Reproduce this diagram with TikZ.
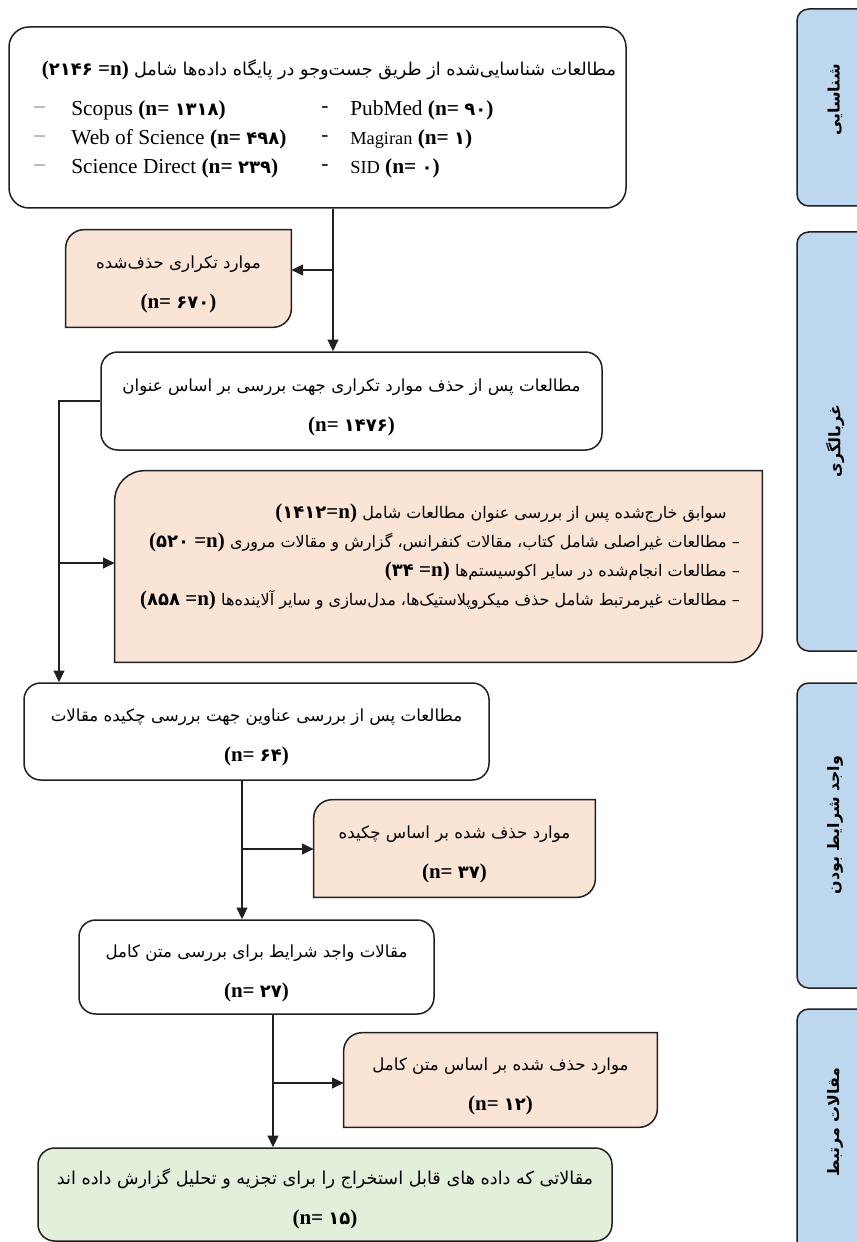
\documentclass[tikz,border=0pt]{standalone}
\usepackage{fontspec}
\setmainfont{Liberation Serif}
\newfontfamily\fa[Script=Arabic]{DejaVu Sans}
\TeXXeTstate=1
\usetikzlibrary{arrows.meta,positioning,backgrounds}

\definecolor{ink}{RGB}{35,31,32}
\definecolor{peach}{RGB}{250,228,214}
\definecolor{mint}{RGB}{226,239,218}
\definecolor{sky}{RGB}{189,215,238}

\def\px{0.6pt}
% persian line, right to left
\newcommand{\fl}[2][10]{{\fa\fontsize{#1}{12}\selectfont\beginR #2\endR}}
% pushes a two line text a little down
\newcommand{\topstrut}{\rule{0pt}{15pt}}
% count on its own line
\newcommand{\nn}[1]{{\bfseries (n= {\fa\fontsize{10.8}{12}\selectfont #1})}}
% count at the end of a persian line
\newcommand{\rn}[2]{{\bfseries ({\fa\fontsize{10.8}{12}\selectfont #1}#2=n)}}
% peach box with two round corners
\newcommand{\cutbox}[2]{%
  \begin{scope}[on background layer]
    \filldraw[draw=ink,fill=peach,line width=0.9pt] (#1.south west) -- ([yshift=-#2]#1.north west)
      arc[start angle=180,end angle=90,radius=#2] -- (#1.north east) -- ([yshift=#2]#1.south east)
      arc[start angle=0,end angle=-90,radius=#2] -- cycle;
  \end{scope}}

\begin{document}
\begin{tikzpicture}[x=0.6pt,y=-0.6pt,
  box/.style={draw=ink,line width=0.9pt,inner sep=0pt,align=center,font=\fontsize{12.6}{24}\selectfont},
  whitebox/.style={box,fill=white,rounded corners=10pt},
  mintbox/.style={box,fill=mint,rounded corners=10pt},
  textonly/.style={inner sep=0pt,align=center,font=\fontsize{12.6}{24}\selectfont},
  sidebox/.style={draw=ink,line width=0.9pt,fill=sky,rounded corners=7pt,inner sep=0pt},
  arr/.style={draw=ink,line width=0.9pt,-{Triangle[length=7pt,width=6.5pt]}}]

  \path[use as bounding box,clip] (0,0) rectangle (857,1242);

  %identification
  \node[whitebox,rounded corners=12pt,minimum width=617*\px,minimum height=181*\px] (ident) at (317.5,117.5) {};
  \node[textonly] (identhead) at (329,70) {\rn{۲۱۴۶}{\ }\ \fl[10.6]{مطالعات شناسایی‌شده از طریق جست‌وجو در پایگاه داده‌ها شامل}};
  \foreach \y/\a/\b in {110/Scopus \nn{۱۳۱۸}/PubMed \nn{۹۰},
                        139/Web of Science \nn{۴۹۸}/{\fontsize{11}{12}\selectfont Magiran} \nn{۱},
                        168/Science Direct \nn{۲۳۹}/{\fontsize{11}{12}\selectfont SID} \nn{۰}}{
    \node[textonly,anchor=west,text=ink!55,font=\fontsize{12.8}{14}\selectfont] (dl\y) at (34,\y) {–};
    \node[textonly,anchor=west,font=\fontsize{12.8}{14}\selectfont] (src\y) at (71,\y) {\a};
    \node[textonly,anchor=west,font=\fontsize{12.8}{14}\selectfont] (dr\y) at (321,\y) {-};
    \node[textonly,anchor=west,font=\fontsize{12.8}{14}\selectfont] (srb\y) at (350,\y) {\b};
  }

  %screening
  \node[textonly,minimum width=225*\px,minimum height=97*\px] (dup) at (178.5,278.5)
    {\topstrut\fl{موارد تکراری حذف‌شده}\\\nn{۶۷۰}};
  \cutbox{dup}{11pt}
  \node[whitebox,minimum width=501*\px,minimum height=98*\px] (titles) at (351.5,401)
    {\topstrut\fl{مطالعات پس از حذف موارد تکراری جهت بررسی بر اساس عنوان}\\\nn{۱۴۷۶}};
  \node[textonly,minimum width=647*\px,minimum height=191*\px] (excl) at (438.5,566.5) {};
  \cutbox{excl}{18pt}
  \node[textonly,align=right,font=\fontsize{12.6}{17.4}\selectfont] (excltext) at (440,557)
    {\rn{۱۴۱۲}{}\ \fl[9.6]{سوابق خارج‌شده پس از بررسی عنوان مطالعات شامل}\hspace*{8pt}\\
     \rn{۵۲۰}{\ }\ \fl[9.6]{– مطالعات غیراصلی شامل کتاب، مقالات کنفرانس، گزارش و مقالات مروری}\\
     \rn{۳۴}{\ }\ \fl[9.6]{– مطالعات انجام‌شده در سایر اکوسیستم‌ها}\\
     \rn{۸۵۸}{\ }\ \fl[9.6]{– مطالعات غیرمرتبط شامل حذف میکروپلاستیک‌ها، مدل‌سازی و سایر آلاینده‌ها}};

  %eligibility
  \node[whitebox,minimum width=465*\px,minimum height=97*\px] (abstracts) at (256.5,731.5)
    {\topstrut\fl{مطالعات پس از بررسی عناوین جهت بررسی چکیده مقالات}\\\nn{۶۴}};
  \node[textonly,minimum width=281*\px,minimum height=97*\px] (absout) at (454.5,848.5)
    {\topstrut\fl{موارد حذف شده بر اساس چکیده}\\\nn{۳۷}};
  \cutbox{absout}{11pt}
  \node[whitebox,minimum width=355*\px,minimum height=94*\px] (fulltext) at (256.5,967)
    {\topstrut\fl{مقالات واجد شرایط برای بررسی متن کامل}\\\nn{۲۷}};
  \node[textonly,minimum width=313*\px,minimum height=94*\px] (fullout) at (500.5,1080)
    {\topstrut\fl{موارد حذف شده بر اساس متن کامل}\\\nn{۱۲}};
  \cutbox{fullout}{11pt}

  %included
  \node[mintbox,minimum width=574*\px,minimum height=93*\px] (included) at (325,1194.5)
    {\topstrut\fl[10.6]{مقالاتی که داده های قابل استخراج را برای تجزیه و تحلیل گزارش داده اند}\\\nn{۱۵}};

  %phases
  \foreach \n/\t/\b/\c/\l in {1/9/206/100/شناسایی, 2/232/651/441/غربالگری,
                              3/683/988/825/واجد شرایط بودن, 4/1009/1290/1122/مقالات مرتبط}{
    \node[sidebox,minimum width=110*\px,minimum height={(\b-\t)*\px}] (phase\n) at (852,{(\t+\b)/2}) {};
    \node[textonly,rotate=90] (phasetext\n) at (835,\c) {\fl[9.5]{\bfseries \l}};
  }

  %connectors
  \coordinate (dupfork) at (333,270);
  \coordinate (leftfork) at (59,563);
  \coordinate (absfork) at (242,849);
  \coordinate (fullfork) at (273,1083);
  \draw[arr] (ident.south -| dupfork) -- (titles.north -| dupfork);
  \draw[arr] (dupfork) -- (dupfork -| dup.east);
  \draw[arr] (titles.west) -- (titles.west -| leftfork) -- (abstracts.north -| leftfork);
  \draw[arr] (leftfork) -- (leftfork -| excl.west);
  \draw[arr] (abstracts.south -| absfork) -- (fulltext.north -| absfork);
  \draw[arr] (absfork) -- (absfork -| absout.west);
  \draw[arr] (fulltext.south -| fullfork) -- (included.north -| fullfork);
  \draw[arr] (fullfork) -- (fullfork -| fullout.west);
\end{tikzpicture}
\end{document}
